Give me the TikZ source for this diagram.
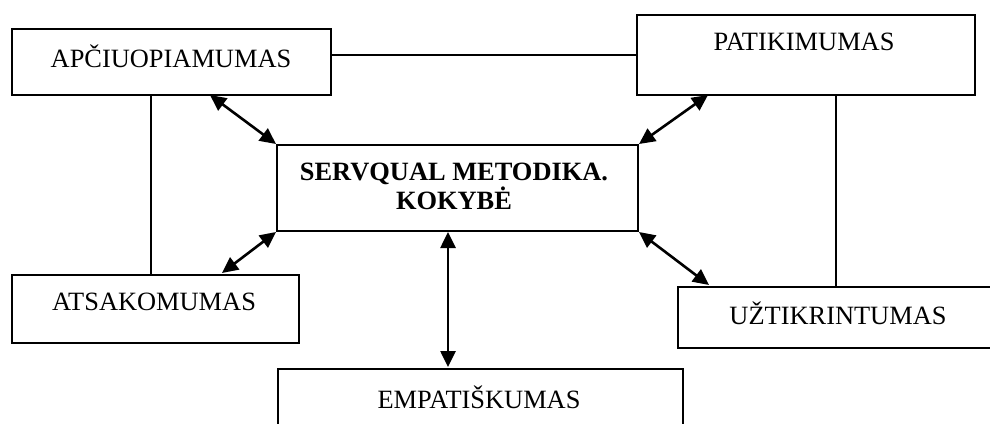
\documentclass[tikz,border=0pt]{standalone}
\usepackage{fontspec}
\setmainfont{Liberation Serif}
\usetikzlibrary{arrows.meta}
\begin{document}
\begin{tikzpicture}[x=1pt,y=-1pt,
  box/.style={draw,line width=2pt,rectangle,inner sep=0pt,anchor=north west},
  lbl/.style={inner sep=0pt,font=\fontsize{26.4}{29}\selectfont},
  blbl/.style={lbl,font=\fontsize{26.4}{29}\selectfont\bfseries,align=center},
  link/.style={line width=1.6pt},
  dbl/.style={line width=2.6pt,{Triangle[length=16pt,width=15pt]}-{Triangle[length=16pt,width=15pt]}}]
\useasboundingbox (0,0) rectangle (990,423);
\clip (0,0) rectangle (990,423);
\fill[white] (0,0) rectangle (990,423);

% boxes
\node[box,minimum width=319pt,minimum height=66pt] (apc) at (11,28) {};
\node[box,minimum width=338pt,minimum height=80pt] (pat) at (636,14) {};
\node[box,minimum width=361pt,minimum height=86pt] (ctr) at (276,144) {};
\node[box,minimum width=287pt,minimum height=68pt] (ats) at (11,274) {};
\node[box,minimum width=325pt,minimum height=61pt] (uzt) at (677,286) {};
\node[box,minimum width=405pt,minimum height=80pt] (emp) at (277,368) {};

% texts
\node[lbl] (apcT) at (171,56) {APČIUOPIAMUMAS};
\node[lbl] (patT) at (804,42) {PATIKIMUMAS};
\node[blbl] (ctrT) at (454,186) {SERVQUAL METODIKA.\\KOKYBĖ};
\node[lbl] (atsT) at (154,302) {ATSAKOMUMAS};
\node[lbl] (uztT) at (838,313) {UŽTIKRINTUMAS};
\node[lbl] (empT) at (479,397) {EMPATIŠKUMAS};

% plain connecting lines
\draw[link] (apc.east |- 0,55) -- (pat.west |- 0,55);
\coordinate (apcB) at (151,94);
\coordinate (atsT0) at (151,274);
\draw[link] (apcB) -- (atsT0);
\coordinate (patB) at (836,94);
\coordinate (uztT0) at (836,286);
\draw[link] (patB) -- (uztT0);

% double-headed arrows towards the centre box
\coordinate (a1) at (210,95);
\coordinate (a2) at (708,95);
\coordinate (a3) at (222,273);
\coordinate (a4) at (709,285);
\coordinate (c5) at (448,232);
\coordinate (e5) at (448,367);
\draw[dbl] (a1) -- (ctr.north west);
\draw[dbl] (a2) -- (ctr.north east);
\draw[dbl] (ctr.south west) -- (a3);
\draw[dbl] (ctr.south east) -- (a4);
\draw[dbl] (c5) -- (e5);
\end{tikzpicture}
\end{document}
